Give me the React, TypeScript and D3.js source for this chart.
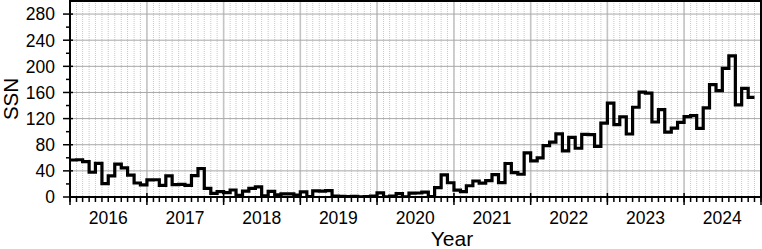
import React from "react";
import * as d3 from "d3";

const startYear = 2016;
const endYear = 2025;

// Monthly mean sunspot number, Jan 2016 .. Nov 2024
const ssn2016 = [56.6, 57.0, 54.2, 37.9, 51.5, 20.5, 32.4, 50.2, 44.6, 33.4, 21.4, 18.5];
const ssn2017 = [26.1, 26.4, 17.7, 32.3, 18.9, 19.2, 17.8, 32.6, 43.6, 13.2, 5.7, 8.2];
const ssn2018 = [6.8, 10.7, 2.5, 8.9, 13.1, 15.6, 1.6, 8.7, 3.3, 4.9, 4.9, 3.1];
const ssn2019 = [7.7, 0.8, 9.4, 9.1, 9.9, 1.2, 0.9, 0.5, 1.1, 0.4, 0.5, 1.5];
const ssn2020 = [6.2, 0.2, 1.5, 5.2, 0.2, 5.8, 6.1, 7.5, 0.6, 14.4, 34.0, 21.8];
const ssn2021 = [10.4, 8.2, 17.2, 24.5, 21.2, 25.0, 34.3, 22.0, 51.3, 37.4, 34.8, 67.5];
const ssn2022 = [55.3, 59.9, 78.5, 84.1, 96.5, 70.5, 91.4, 74.6, 96.0, 95.5, 77.6, 113.1];
const ssn2023 = [143.6, 110.9, 122.8, 96.4, 137.4, 160.5, 159.1, 114.8, 133.6, 99.4, 105.4, 114.2];
const ssn2024 = [123.0, 124.7, 104.9, 136.5, 172.0, 162.7, 196.8, 216.0, 141.1, 166.3, 152.5];

const ssnMonthly = [
  ...ssn2016, ...ssn2017, ...ssn2018, ...ssn2019, ...ssn2020,
  ...ssn2021, ...ssn2022, ...ssn2023, ...ssn2024,
];

const yTickValues = [0, 40, 80, 120, 160, 200, 240, 280];
const yMinorValues = [20, 60, 100, 140, 180, 220, 260];
const yearLabels = [2016, 2017, 2018, 2019, 2020, 2021, 2022, 2023, 2024];

const W = 762;
const H = 249;
const L = 70;
const R = 761;
const T = 1;
const B = 197;
const FONT = "'Liberation Sans', Arial, Helvetica, sans-serif";

export default function App() {
  const x = d3
    .scaleTime()
    .domain([new Date(startYear, 0, 1), new Date(endYear, 0, 1)])
    .range([L, R]);
  const y = d3.scaleLinear().domain([0, 300]).range([B, T]);

  const pts = ssnMonthly.map((v, i) => ({ date: new Date(startYear, i, 1), v }));
  pts.push({ date: new Date(startYear, ssnMonthly.length, 1), v: ssnMonthly[ssnMonthly.length - 1] });

  const line = d3
    .line<{ date: Date; v: number }>()
    .x((d) => x(d.date))
    .y((d) => y(d.v))
    .curve(d3.curveStepAfter);

  const months = d3.timeMonth.range(new Date(startYear, 0, 1), new Date(endYear, 0, 2));
  const years = d3.timeYear.range(new Date(startYear, 0, 1), new Date(endYear, 0, 2));

  return (
    <svg
      width={W}
      height={H}
      style={{ position: "absolute", left: 0, top: 0, background: "#fff" }}
      fontFamily={FONT}
    >
      <defs>
        <clipPath id="plot">
          <rect x={L} y={T} width={R - L} height={B - T} />
        </clipPath>
      </defs>
      {/* minor vertical dotted grid */}
      {months.map((m, i) => (
        <line
          key={"mv" + i}
          x1={x(m)}
          x2={x(m)}
          y1={T}
          y2={B}
          stroke="#c8c8c8"
          strokeWidth={1}
          strokeDasharray="1,1"
        />
      ))}
      {/* major vertical grid */}
      {years.map((m, i) => (
        <line key={"yv" + i} x1={x(m)} x2={x(m)} y1={T} y2={B} stroke="#c4c4c4" strokeWidth={1.6} />
      ))}
      {/* major horizontal grid */}
      {yTickValues.map((v) => (
        <line key={"hg" + v} x1={L} x2={R} y1={y(v)} y2={y(v)} stroke="#a8a8a8" strokeWidth={1} />
      ))}

      {/* data */}
      <path
        d={line(pts) || ""}
        fill="none"
        stroke="#000"
        strokeWidth={3.2}
        strokeLinejoin="miter"
        clipPath="url(#plot)"
      />

      {/* frame */}
      <line x1={L} x2={R + 1} y1={T} y2={T} stroke="#000" strokeWidth={2} />
      <line x1={R} x2={R} y1={T} y2={B} stroke="#000" strokeWidth={2} />
      <line x1={L} x2={L} y1={T - 1} y2={B + 1} stroke="#000" strokeWidth={2} />
      <line x1={L - 1} x2={R + 1} y1={B} y2={B} stroke="#000" strokeWidth={2} />

      {/* y ticks */}
      {yTickValues.map((v) => (
        <g key={"yt" + v}>
          <line x1={L - 7} x2={L + 3} y1={y(v)} y2={y(v)} stroke="#000" strokeWidth={1.5} />
          <text x={L - 15} y={y(v)} dy="0.36em" textAnchor="end" fontSize={17.5} fill="#000">
            {v}
          </text>
        </g>
      ))}
      {yMinorValues.map((v) => (
        <line key={"ym" + v} x1={L - 4} x2={L} y1={y(v)} y2={y(v)} stroke="#000" strokeWidth={1.5} />
      ))}

      {/* x ticks */}
      {months.map((m, i) => (
        <line key={"xm" + i} x1={x(m)} x2={x(m)} y1={B} y2={B + 5} stroke="#000" strokeWidth={1.5} />
      ))}
      {years.map((m, i) => (
        <line key={"xt" + i} x1={x(m)} x2={x(m)} y1={B - 4} y2={B + 8} stroke="#000" strokeWidth={1.5} />
      ))}
      {yearLabels.map((yr) => (
        <text
          key={"xl" + yr}
          x={x(new Date(yr, 6, 1))}
          y={224}
          textAnchor="middle"
          fontSize={17.5}
          fill="#000"
        >
          {yr}
        </text>
      ))}

      {/* axis titles */}
      <text
        transform={`translate(${18},${(T + B) / 2}) rotate(-90)`}
        textAnchor="middle"
        fontSize={20.5}
        fill="#000"
      >
        SSN
      </text>
      <text x={452} y={246} textAnchor="middle" fontSize={21} fill="#000">
        Year
      </text>
    </svg>
  );
}
